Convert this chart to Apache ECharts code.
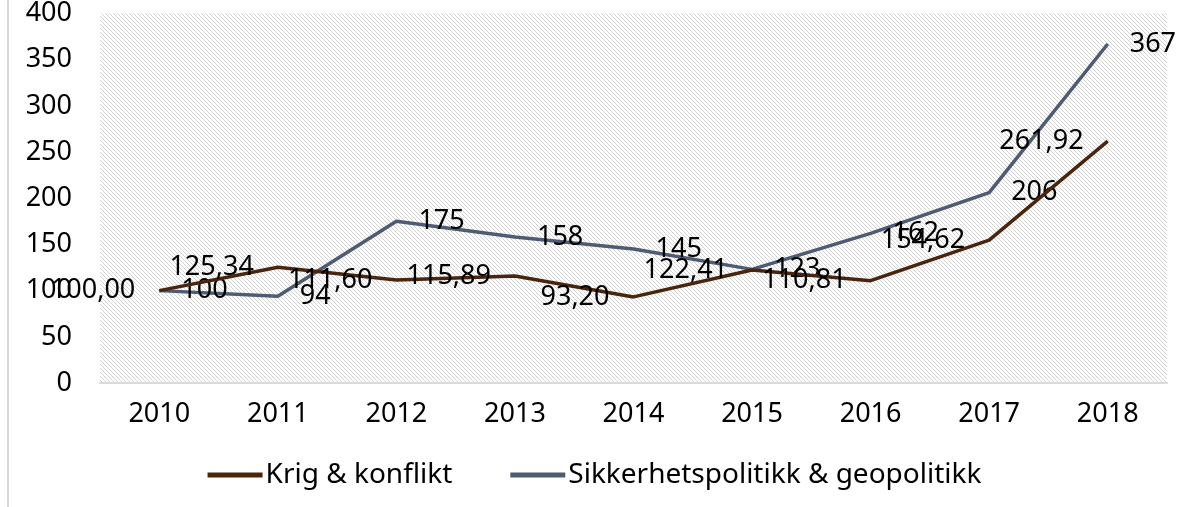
<!DOCTYPE html>
<html>
<head>
<meta charset="utf-8">
<script src="https://cdn.jsdelivr.net/npm/echarts@6/dist/echarts.min.js"></script>
<style>
  html, body { margin: 0; padding: 0; background: #fff; }
  #chart { width: 1189px; height: 507px; position: relative; }
  .edge { position: absolute; left: 7px; top: 0; width: 2px; height: 507px; background: #d9d9d9; z-index: 2; }
</style>
</head>
<body>
<div class="edge"></div>
<div id="chart"></div>
<script>
// år på x-aksen
var years = ['2010', '2011', '2012', '2013', '2014', '2015', '2016', '2017', '2018'];
// indeks 2010 = 100
var krigKonflikt = [100.00, 125.34, 111.60, 115.89, 93.20, 122.41, 110.81, 154.62, 261.92];
var sikkerhetGeo = [100, 94, 175, 158, 145, 123, 162, 206, 367];
var seriesNames = ['Krig & konflikt', 'Sikkerhetspolitikk & geopolitikk'];

var FONT = 'Noto Sans';
var FS = 27;

// skravert bakgrunn i plottområdet
function hatch() {
  var c = document.createElement('canvas');
  c.width = 4; c.height = 4;
  var ctx = c.getContext('2d');
  ctx.fillStyle = '#ffffff';
  ctx.fillRect(0, 0, 4, 4);
  ctx.strokeStyle = '#d2d2d2';
  ctx.lineWidth = 1;
  ctx.beginPath();
  ctx.moveTo(-1, -1); ctx.lineTo(5, 5);
  ctx.moveTo(-1, 3); ctx.lineTo(1, 5);
  ctx.moveTo(3, -1); ctx.lineTo(5, 1);
  ctx.stroke();
  return c;
}

var chart = echarts.init(document.getElementById('chart'));
var option = {
  animation: false,
  textStyle: { fontFamily: FONT },
  grid: {
    left: 100, right: 22, top: 13, bottom: 124,
    show: true,
    borderWidth: 0,
    backgroundColor: { image: hatch(), repeat: 'repeat' }
  },
  legend: {
    bottom: 13,
    left: 'center',
    itemWidth: 55,
    itemHeight: 5,
    itemGap: 58,
    icon: 'rect',
    textStyle: { fontFamily: FONT, fontSize: 28, color: '#000', padding: [0, 0, 0, -2] },
    data: seriesNames
  },
  xAxis: {
    type: 'category',
    data: years,
    boundaryGap: true,
    axisLine: { lineStyle: { color: '#d9d9d9', width: 2 } },
    axisTick: { show: false },
    axisLabel: { margin: 18, fontSize: FS, color: '#000', fontFamily: FONT }
  },
  yAxis: {
    type: 'value',
    min: 0, max: 400, interval: 50,
    axisLine: { show: false },
    axisTick: { show: false },
    splitLine: { show: false },
    axisLabel: { margin: 28, fontSize: FS, color: '#000', fontFamily: FONT }
  },
  series: [
    {
      name: seriesNames[0],
      type: 'line',
      data: krigKonflikt,
      symbol: 'circle',
      symbolSize: 0,
      z: 3,
      itemStyle: { color: '#4a250e' },
      lineStyle: { color: '#4a250e', width: 3.5 },
      label: {
        show: true,
        position: 'left',
        distance: 24,
        fontSize: FS,
        color: '#000',
        fontFamily: FONT,
        formatter: function (p) { return p.value.toFixed(2).replace('.', ','); }
      }
    },
    {
      name: seriesNames[1],
      type: 'line',
      data: sikkerhetGeo,
      symbol: 'circle',
      symbolSize: 0,
      z: 2,
      itemStyle: { color: '#4d5b73' },
      lineStyle: { color: '#4d5b73', width: 3.5 },
      label: {
        show: true,
        position: 'right',
        distance: 22,
        fontSize: FS,
        color: '#000',
        fontFamily: FONT
      }
    }
  ]
};
chart.setOption(option);
</script>
</body>
</html>
